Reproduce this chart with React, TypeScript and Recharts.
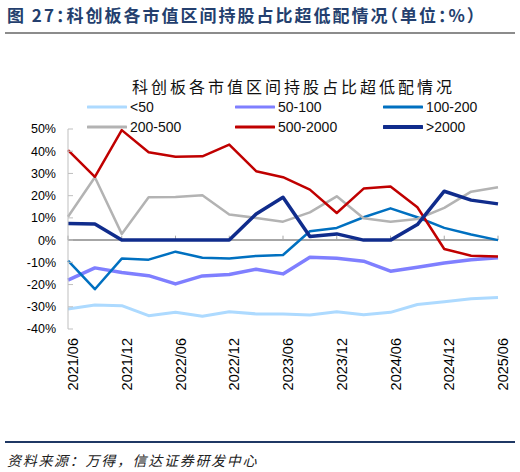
import React from 'react';
import { LineChart, Line, XAxis, YAxis, ReferenceLine, Legend } from 'recharts';

const categories = [
  '2021/06', '2021/09', '2021/12', '2022/03', '2022/06', '2022/09', '2022/12', '2023/03',
  '2023/06', '2023/09', '2023/12', '2024/03', '2024/06', '2024/09', '2024/12', '2025/03', '2025/06',
];

const lt50 = [-31, -29.2, -29.5, -34, -32.5, -34.3, -32.2, -33.2, -33.2, -33.7, -32.2, -33.6, -32.5, -29, -27.7, -26.4, -25.8];
const s50to100 = [-18, -12.5, -14.6, -16, -19.7, -16.1, -15.5, -13.1, -15.2, -7.7, -8.2, -9.5, -14, -12.2, -10.3, -8.8, -7.9];
const s100to200 = [-9.2, -22.1, -8.3, -8.8, -5.2, -7.9, -8.3, -7.1, -6.7, 4, 5.5, 10.3, 14.3, 10.3, 5.5, 2.5, 0];
const s200to500 = [10.5, 28.3, 2.8, 19.3, 19.4, 20.2, 11.5, 10, 8.3, 12.5, 19.7, 9.8, 8.3, 9.5, 14.5, 21.8, 23.8];
const s500to2000 = [40.5, 28.5, 49.5, 39.5, 37.5, 37.7, 43, 31, 28.3, 22.7, 12.2, 23.2, 24.1, 14.8, -4, -7, -7.4];
const gt2000 = [7.5, 7.3, 0, 0, 0, 0, 0, 11.8, 19.3, 1.6, 2.8, 0, 0, 7, 22, 18, 16.3];

const seriesNames = ['<50', '50-100', '100-200', '200-500', '500-2000', '>2000'];
const seriesKeys = ['s0', 's1', 's2', 's3', 's4', 's5'];
const seriesValues = [lt50, s50to100, s100to200, s200to500, s500to2000, gt2000];
const seriesColors = ['#ADDAFF', '#7F7FFF', '#0070C0', '#B3B3B3', '#C00000', '#102C8C'];
const seriesWidths = [3, 3.5, 2.5, 2.5, 2.5, 3.5];

const yTicks = [-40, -30, -20, -10, 0, 10, 20, 30, 40, 50];

const data = categories.map((c, i) => {
  const row: Record<string, string | number> = { date: c };
  seriesKeys.forEach((k, j) => {
    row[k] = seriesValues[j][i];
  });
  return row;
});

const evenCategories = categories.filter((_, i) => i % 2 === 0);

const FONT_LATIN = '"Liberation Sans", Arial, sans-serif';
const FONT_CJK = '"Noto Sans CJK SC", "Noto Sans", sans-serif';

const XTick = (props: any) => {
  const { x, y, payload } = props;
  return (
    <text
      transform={`translate(${x + 5},${y}) rotate(-90)`}
      textAnchor="end"
      dy="0.35em"
      fontSize={14.5}
      fontFamily={FONT_LATIN}
      fill="#000"
    >
      {payload.value}
    </text>
  );
};

const renderLegend = (props: any) => {
  const payload = [...(props.payload || [])].sort(
    (a: any, b: any) => seriesKeys.indexOf(a.dataKey) - seriesKeys.indexOf(b.dataKey)
  );
  return (
    <div style={{ position: 'relative', width: 520, height: 40 }}>
      {payload.map((p: any, i: number) => {
        const idx = seriesKeys.indexOf(p.dataKey);
        const col = i % 3;
        const row = Math.floor(i / 3);
        return (
          <div
            key={p.dataKey}
            style={{
              position: 'absolute',
              left: 87 + col * 148,
              top: row * 20,
              height: 14,
              display: 'flex',
              alignItems: 'center',
              whiteSpace: 'nowrap',
            }}
          >
            <svg width={40} height={6} style={{ display: 'block' }}>
              <line x1={1} y1={3} x2={39} y2={3} stroke={p.color} strokeWidth={idx === 5 ? 4 : 3.2} strokeLinecap="round" />
            </svg>
            <span style={{ marginLeft: 3, fontSize: 14, fontFamily: FONT_LATIN, color: '#111', lineHeight: '14px' }}>
              {p.value}
            </span>
          </div>
        );
      })}
    </div>
  );
};

export default function App() {
  return (
    <div
      style={{
        position: 'absolute',
        left: 0,
        top: 0,
        width: 520,
        height: 472,
        background: '#fff',
        overflow: 'hidden',
      }}
    >
      <div
        style={{
          position: 'absolute',
          left: 7,
          top: 4,
          fontSize: 17,
          fontWeight: 'bold',
          letterSpacing: 2,
          color: '#243F6E',
          fontFamily: FONT_CJK,
          fontFeatureSettings: '"halt"',
          whiteSpace: 'nowrap',
          lineHeight: '22px',
        }}
      >
        图 27：科创板各市值区间持股占比超低配情况（单位：%）
      </div>
      <div style={{ position: 'absolute', left: 5, top: 32, width: 510, height: 2, background: '#8C8C8C' }} />

      <div
        style={{
          position: 'absolute',
          left: 132,
          top: 75,
          fontSize: 16,
          letterSpacing: 3,
          color: '#111',
          fontFamily: FONT_CJK,
          whiteSpace: 'nowrap',
          lineHeight: '22px',
        }}
      >
        科创板各市值区间持股占比超低配情况
      </div>

      <LineChart
        width={520}
        height={420}
        data={data}
        margin={{ top: 129, right: 22, bottom: 21, left: 0 }}
        style={{ position: 'absolute', left: 0, top: 0 }}
      >
        <ReferenceLine y={0} stroke="#A6A6A6" strokeWidth={2} />
        {evenCategories.map((c) => (
          <ReferenceLine
            key={'t' + c}
            segment={[
              { x: c, y: 0 },
              { x: c, y: 2 },
            ]}
            stroke="#A6A6A6"
            strokeWidth={1}
          />
        ))}
        <XAxis
          dataKey="date"
          interval={1}
          axisLine={false}
          tickLine={false}
          tickSize={0}
          tickMargin={9}
          height={70}
          tick={<XTick />}
          padding={{ left: 0, right: 0 }}
        />
        <YAxis
          width={68}
          domain={[-40, 50]}
          ticks={yTicks}
          interval={0}
          tickFormatter={(v: number) => `${v}%`}
          axisLine={{ stroke: '#BFBFBF', strokeWidth: 1 }}
          tickLine={{ stroke: '#BFBFBF', strokeWidth: 1 }}
          tickSize={-5}
          tickMargin={17}
          tick={{ fontSize: 12.5, fill: '#000', fontFamily: FONT_LATIN }}
        />
        <Legend
          content={renderLegend}
          layout="horizontal"
          verticalAlign="middle"
          align="center"
          wrapperStyle={{ top: 100, left: 0, width: 520 }}
        />
        {seriesKeys.map((k, j) => (
          <Line
            key={k}
            type="linear"
            dataKey={k}
            name={seriesNames[j]}
            stroke={seriesColors[j]}
            strokeWidth={seriesWidths[j]}
            dot={false}
            activeDot={false}
            strokeLinejoin="round"
            isAnimationActive={false}
          />
        ))}
      </LineChart>

      <div style={{ position: 'absolute', left: 5, top: 441, width: 510, height: 2, background: '#1F3864' }} />
      <div
        style={{
          position: 'absolute',
          left: 7,
          top: 450,
          fontSize: 14,
          fontStyle: 'italic',
          letterSpacing: 1.7,
          color: '#222',
          fontFamily: FONT_CJK,
          whiteSpace: 'nowrap',
          lineHeight: '20px',
        }}
      >
        资料来源：万得，信达证券研发中心
      </div>
    </div>
  );
}
